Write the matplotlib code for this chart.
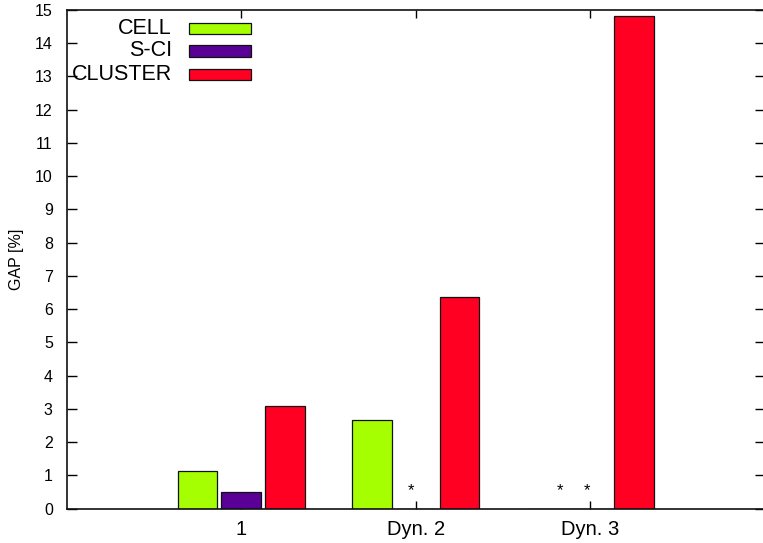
import matplotlib
matplotlib.use("Agg")
import matplotlib.pyplot as plt
from matplotlib.patches import Rectangle
import numpy as np

# Data
groups = ["1", "Dyn. 2", "Dyn. 3"]
series = ["CELL", "S-CI", "CLUSTER"]
cell = [1.14, 2.67, 0.0]
sci = [0.51, 0.0, 0.0]
cluster = [3.10, 6.38, 14.82]
colors = ["#a6ff00", "#5a0096", "#ff0022"]

# star markers for zero-valued entries (x in data units, y value)
star_x = [1.973, 2.827, 2.981]
star_y = [0.55, 0.55, 0.55]

plt.rcParams["font.family"] = ["Liberation Sans", "DejaVu Sans"]

W, H = 763, 543
fig = plt.figure(figsize=(W / 100, H / 100), dpi=100)
x0, x1 = 66.7, 764.7
ytop, ybot = 10.0, 508.7
ax = fig.add_axes([x0 / W, (H - ybot) / H, (x1 - x0) / W, (ybot - ytop) / H])

centers = np.arange(1, len(groups) + 1)
width = 0.226
offset = 0.25
for i, (vals, col) in enumerate(zip([cell, sci, cluster], colors)):
    ax.bar(centers + (i - 1) * offset, vals, width=width, color=col,
           edgecolor="#111111", linewidth=0.9, zorder=2)

for sx, sy in zip(star_x, star_y):
    ax.text(sx, sy, "*", ha="center", va="center", fontsize=12, color="black")

ax.set_xlim(0, 4)
ax.set_ylim(0, 15)
ax.set_xticks(centers)
ax.set_xticklabels(groups, fontsize=14.5)
ax.set_yticks(np.arange(0, 16, 1))
ax.tick_params(axis="y", labelsize=11.5, direction="in", length=7, width=1,
               right=True, pad=10)
ax.tick_params(axis="x", direction="in", length=6, width=1, top=True, pad=8)
ax.set_ylabel("GAP [%]", fontsize=11.5)
ax.yaxis.set_label_coords((24 - x0) / (x1 - x0), 0.5)
for sp in ax.spines.values():
    sp.set_linewidth(1.2)
    sp.set_color("#111111")

# key: right-aligned text followed by a colour swatch
text_right = (171.7 - x0) / (x1 - x0)
box_left = (189.3 - x0) / (x1 - x0)
box_w = (251.0 - 189.3) / (x1 - x0)
box_h = 11.0 / (ybot - ytop)
row_px = [28.3, 51.0, 74.0]
for name, col, rp in zip(series, colors, row_px):
    yc = 1 - (rp - ytop) / (ybot - ytop)
    ax.text(text_right, yc, name, transform=ax.transAxes, ha="right",
            va="center", fontsize=15.5)
    ax.add_patch(Rectangle((box_left, yc - box_h / 2), box_w, box_h,
                           transform=ax.transAxes, facecolor=col,
                           edgecolor="#111111", linewidth=0.9, zorder=3))

fig.savefig("out.png", dpi=100)
